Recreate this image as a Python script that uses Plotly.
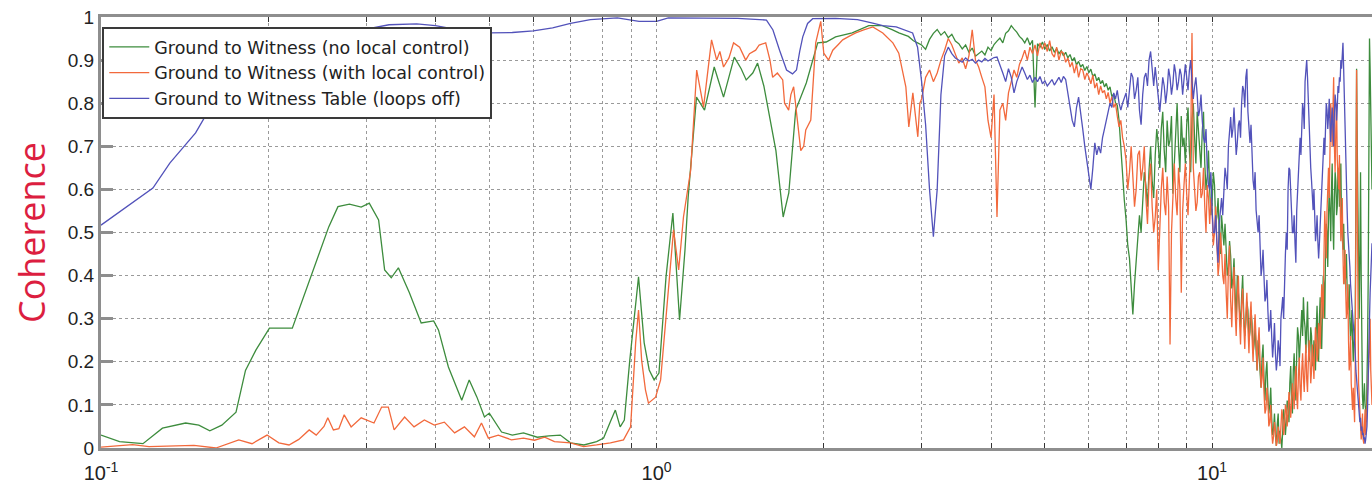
import numpy as np
import plotly.graph_objects as go

# ---- measured coherence, low-frequency part: (frequency Hz, coherence) ----
green_low = [
    (0.100, 0.030), (0.108, 0.015), (0.119, 0.010), (0.129, 0.046), (0.142, 0.058),
    (0.150, 0.053), (0.157, 0.040), (0.165, 0.053), (0.175, 0.083), (0.182, 0.180),
    (0.190, 0.227), (0.201, 0.278), (0.221, 0.278), (0.239, 0.400), (0.257, 0.513),
    (0.267, 0.560), (0.280, 0.566), (0.294, 0.559), (0.304, 0.568), (0.316, 0.529),
    (0.324, 0.413), (0.333, 0.395), (0.343, 0.418), (0.359, 0.360), (0.377, 0.290),
    (0.397, 0.295), (0.405, 0.274), (0.422, 0.188), (0.446, 0.111), (0.460, 0.158),
    (0.475, 0.118), (0.490, 0.072), (0.500, 0.081), (0.526, 0.037), (0.550, 0.030),
    (0.576, 0.035), (0.610, 0.025), (0.640, 0.028), (0.671, 0.030), (0.700, 0.012),
    (0.740, 0.007), (0.780, 0.015), (0.803, 0.023), (0.825, 0.060), (0.843, 0.088),
    (0.860, 0.049), (0.875, 0.065), (0.895, 0.204), (0.928, 0.397), (0.950, 0.244),
    (0.970, 0.181), (0.990, 0.158), (1.010, 0.174), (1.040, 0.397), (1.070, 0.545),
    (1.100, 0.297), (1.125, 0.459), (1.140, 0.582), (1.180, 0.814), (1.220, 0.784),
    (1.270, 0.884), (1.320, 0.814), (1.380, 0.907), (1.420, 0.880), (1.450, 0.854),
    (1.490, 0.870), (1.520, 0.893), (1.560, 0.840), (1.590, 0.784), (1.640, 0.690),
    (1.690, 0.536), (1.730, 0.592), (1.780, 0.784), (1.860, 0.847), (1.950, 0.940),
    (2.020, 0.942), (2.100, 0.954), (2.250, 0.963), (2.410, 0.980), (2.550, 0.980),
    (2.660, 0.970), (2.730, 0.963), (2.840, 0.955), (2.900, 0.945), (2.950, 0.940),
]

orange_low = [
    (0.100, 0.002), (0.106, 0.005), (0.114, 0.008), (0.122, 0.003), (0.133, 0.005),
    (0.147, 0.006), (0.161, 0.000), (0.177, 0.019), (0.187, 0.010), (0.199, 0.030),
    (0.209, 0.012), (0.218, 0.007), (0.227, 0.020), (0.237, 0.042), (0.244, 0.030),
    (0.252, 0.050), (0.256, 0.070), (0.262, 0.042), (0.268, 0.045), (0.274, 0.077),
    (0.282, 0.049), (0.294, 0.070), (0.310, 0.058), (0.320, 0.095), (0.329, 0.095),
    (0.337, 0.042), (0.352, 0.072), (0.366, 0.049), (0.382, 0.065), (0.398, 0.053),
    (0.415, 0.060), (0.433, 0.035), (0.451, 0.049), (0.470, 0.026), (0.484, 0.058),
    (0.498, 0.023), (0.519, 0.030), (0.548, 0.019), (0.576, 0.023), (0.603, 0.018),
    (0.629, 0.025), (0.655, 0.015), (0.700, 0.012), (0.739, 0.003), (0.780, 0.007),
    (0.826, 0.012), (0.872, 0.019), (0.898, 0.049), (0.917, 0.244), (0.928, 0.320),
    (0.940, 0.204), (0.955, 0.135), (0.967, 0.104), (0.996, 0.118), (1.017, 0.158),
    (1.042, 0.320), (1.073, 0.506), (1.096, 0.413), (1.118, 0.536), (1.152, 0.645),
    (1.181, 0.877), (1.215, 0.791), (1.256, 0.947), (1.283, 0.900), (1.300, 0.920),
    (1.320, 0.884), (1.350, 0.905), (1.376, 0.940), (1.411, 0.930), (1.447, 0.900),
    (1.470, 0.915), (1.508, 0.923), (1.530, 0.935), (1.572, 0.940), (1.600, 0.900),
    (1.618, 0.860), (1.650, 0.870), (1.687, 0.854), (1.700, 0.800), (1.729, 0.784),
    (1.745, 0.820), (1.765, 0.838), (1.790, 0.760), (1.818, 0.690), (1.840, 0.700),
    (1.856, 0.738), (1.895, 0.761), (1.934, 0.940), (1.975, 0.990), (2.000, 0.916),
    (2.040, 0.900), (2.076, 0.923), (2.120, 0.935), (2.163, 0.947), (2.220, 0.955),
    (2.283, 0.963), (2.360, 0.970), (2.451, 0.977), (2.554, 0.963), (2.663, 0.940),
    (2.729, 0.916), (2.810, 0.838), (2.845, 0.745), (2.893, 0.824), (2.953, 0.722),
    (2.978, 0.800),
]

blue_low = [
    (0.100, 0.517), (0.124, 0.603), (0.133, 0.661), (0.148, 0.731), (0.159, 0.800),
    (0.170, 0.860), (0.185, 0.910), (0.205, 0.940), (0.230, 0.955), (0.260, 0.965),
    (0.300, 0.972), (0.330, 0.982), (0.370, 0.984), (0.400, 0.980), (0.440, 0.970),
    (0.500, 0.963), (0.550, 0.964), (0.600, 0.968), (0.650, 0.975), (0.700, 0.985),
    (0.760, 0.994), (0.850, 0.998), (0.930, 0.990), (1.000, 0.990), (1.050, 0.998),
    (1.200, 0.998), (1.400, 0.997), (1.577, 0.993), (1.620, 0.970), (1.665, 0.923),
    (1.714, 0.877), (1.757, 0.868), (1.786, 0.877), (1.810, 0.920), (1.833, 0.954),
    (1.870, 0.985), (1.910, 0.996), (2.100, 0.997), (2.300, 0.994), (2.450, 0.986),
    (2.554, 0.980), (2.700, 0.977), (2.890, 0.963), (2.950, 0.930),
]

# ---- FFT-bin sections: 3.00-6.95 Hz every 0.05 Hz, then 7.00-19.40 Hz every 0.05 Hz ----
BAND_A = (3.0, 0.05)
BAND_B = (7.0, 0.05)

green_band_a = [
    0.935, 0.925, 0.948, 0.962, 0.971, 0.958, 0.966, 0.952, 0.960, 0.944,
    0.938, 0.926, 0.935, 0.918, 0.928, 0.909, 0.915, 0.921, 0.912, 0.930,
    0.922, 0.936, 0.944, 0.951, 0.940, 0.962, 0.968, 0.980, 0.972, 0.965,
    0.955, 0.949, 0.940, 0.952, 0.935, 0.946, 0.790, 0.938, 0.930, 0.942,
    0.925, 0.936, 0.921, 0.931, 0.918, 0.927, 0.915, 0.922, 0.910, 0.918,
    0.905, 0.913, 0.898, 0.906, 0.889, 0.897, 0.884, 0.890, 0.876, 0.885,
    0.871, 0.879, 0.862, 0.868, 0.852, 0.860, 0.845, 0.853, 0.838, 0.846,
    0.830, 0.838, 0.815, 0.822, 0.801, 0.795, 0.760, 0.690, 0.640, 0.575,
]
green_band_b = [
    0.530, 0.470, 0.440, 0.360, 0.310, 0.380, 0.430, 0.500, 0.540, 0.500,
    0.585, 0.640, 0.610, 0.560, 0.645, 0.700, 0.620, 0.580, 0.680, 0.740,
    0.705, 0.650, 0.740, 0.780, 0.690, 0.640, 0.760, 0.700, 0.715, 0.770,
    0.590, 0.660, 0.745, 0.800, 0.700, 0.640, 0.770, 0.700, 0.720, 0.660,
    0.750, 0.790, 0.690, 0.640, 0.765, 0.800, 0.720, 0.660, 0.780, 0.740,
    0.705, 0.650, 0.735, 0.780, 0.660, 0.600, 0.630, 0.690, 0.600, 0.540,
    0.570, 0.640, 0.610, 0.520, 0.536, 0.580, 0.500, 0.450, 0.540, 0.490,
    0.470, 0.520, 0.455, 0.400, 0.420, 0.480, 0.445, 0.370, 0.390, 0.440,
    0.360, 0.300, 0.400, 0.360, 0.336, 0.280, 0.350, 0.400, 0.310, 0.260,
    0.290, 0.340, 0.320, 0.250, 0.270, 0.320, 0.290, 0.220, 0.240, 0.280,
    0.227, 0.180, 0.250, 0.210, 0.190, 0.140, 0.210, 0.240, 0.160, 0.110,
    0.175, 0.200, 0.128, 0.080, 0.100, 0.140, 0.070, 0.030, 0.042, 0.080,
    0.030, 0.005, 0.055, 0.080, 0.010, 0.040, 0.019, 0.000, 0.040, 0.090,
    0.070, 0.030, 0.060, 0.110, 0.104, 0.060, 0.150, 0.190, 0.120, 0.080,
    0.180, 0.220, 0.160, 0.110, 0.220, 0.280, 0.260, 0.200, 0.240, 0.300,
    0.320, 0.260, 0.350, 0.300, 0.280, 0.220, 0.300, 0.340, 0.250, 0.200,
    0.227, 0.280, 0.260, 0.190, 0.200, 0.250, 0.240, 0.180, 0.280, 0.330,
    0.250, 0.200, 0.300, 0.350, 0.270, 0.230, 0.320, 0.400, 0.380, 0.300,
    0.450, 0.520, 0.500, 0.420, 0.540, 0.600, 0.550, 0.480, 0.600, 0.660,
    0.520, 0.460, 0.580, 0.640, 0.620, 0.540, 0.560, 0.650, 0.630, 0.560,
    0.600, 0.660, 0.520, 0.470, 0.460, 0.520, 0.430, 0.380, 0.400, 0.450,
    0.370, 0.320, 0.330, 0.380, 0.300, 0.250, 0.280, 0.320, 0.250, 0.200,
    0.244, 0.280, 0.300, 0.600, 0.880, 0.700, 0.570, 0.400, 0.300, 0.450,
    0.640, 0.400, 0.200, 0.120, 0.090, 0.130, 0.150, 0.100, 0.088, 0.060,
    0.120, 0.250, 0.400, 0.700, 0.950, 0.880, 0.780, 0.650, 0.600,
]

orange_band_a = [
    0.810, 0.860, 0.877, 0.850, 0.870, 0.900, 0.923, 0.950, 0.935, 0.915,
    0.893, 0.905, 0.880, 0.910, 0.970, 0.900, 0.884, 0.860, 0.838, 0.760,
    0.720, 0.820, 0.536, 0.784, 0.800, 0.760, 0.824, 0.850, 0.877, 0.860,
    0.890, 0.905, 0.923, 0.900, 0.930, 0.915, 0.935, 0.910, 0.940, 0.925,
    0.940, 0.920, 0.945, 0.915, 0.907, 0.930, 0.900, 0.920, 0.916, 0.895,
    0.905, 0.884, 0.895, 0.870, 0.890, 0.860, 0.880, 0.877, 0.855, 0.870,
    0.860, 0.845, 0.865, 0.835, 0.847, 0.820, 0.840, 0.824, 0.830, 0.810,
    0.825, 0.800, 0.815, 0.790, 0.800, 0.770, 0.745, 0.760, 0.720, 0.700,
]
orange_band_b = [
    0.668, 0.600, 0.640, 0.700, 0.630, 0.560, 0.600, 0.680, 0.690, 0.620,
    0.650, 0.700, 0.580, 0.520, 0.620, 0.660, 0.560, 0.500, 0.536, 0.600,
    0.413, 0.520, 0.600, 0.650, 0.570, 0.540, 0.630, 0.560, 0.240, 0.500,
    0.600, 0.660, 0.580, 0.540, 0.650, 0.600, 0.360, 0.550, 0.610, 0.660,
    0.590, 0.540, 0.620, 0.700, 0.963, 0.650, 0.600, 0.550, 0.570, 0.630,
    0.640, 0.580, 0.590, 0.650, 0.560, 0.500, 0.610, 0.580, 0.520, 0.580,
    0.550, 0.470, 0.500, 0.560, 0.475, 0.400, 0.430, 0.500, 0.460, 0.400,
    0.380, 0.450, 0.360, 0.300, 0.420, 0.470, 0.340, 0.280, 0.370, 0.420,
    0.320, 0.260, 0.350, 0.400, 0.300, 0.240, 0.330, 0.370, 0.290, 0.230,
    0.310, 0.360, 0.280, 0.220, 0.300, 0.340, 0.260, 0.200, 0.270, 0.310,
    0.250, 0.180, 0.244, 0.280, 0.200, 0.140, 0.160, 0.210, 0.128, 0.080,
    0.090, 0.140, 0.110, 0.050, 0.060, 0.100, 0.040, 0.010, 0.026, 0.060,
    0.040, 0.005, 0.015, 0.050, 0.030, 0.010, 0.049, 0.090, 0.070, 0.030,
    0.050, 0.100, 0.090, 0.050, 0.080, 0.130, 0.110, 0.070, 0.100, 0.150,
    0.128, 0.090, 0.150, 0.190, 0.120, 0.090, 0.170, 0.210, 0.140, 0.110,
    0.180, 0.220, 0.165, 0.130, 0.190, 0.240, 0.160, 0.130, 0.200, 0.250,
    0.210, 0.150, 0.180, 0.240, 0.204, 0.160, 0.230, 0.280, 0.250, 0.200,
    0.220, 0.290, 0.280, 0.230, 0.300, 0.380, 0.350, 0.300, 0.450, 0.550,
    0.500, 0.440, 0.550, 0.640, 0.650, 0.580, 0.720, 0.800, 0.760, 0.700,
    0.784, 0.860, 0.700, 0.640, 0.740, 0.800, 0.670, 0.600, 0.600, 0.680,
    0.540, 0.480, 0.510, 0.580, 0.450, 0.380, 0.400, 0.460, 0.360, 0.300,
    0.320, 0.380, 0.250, 0.180, 0.200, 0.260, 0.150, 0.100, 0.088, 0.140,
    0.100, 0.060, 0.200, 0.500, 0.877, 0.600, 0.300, 0.150, 0.120, 0.080,
    0.060, 0.020, 0.040, 0.080, 0.020, 0.010, 0.050, 0.090, 0.030, 0.060,
    0.080, 0.120, 0.150, 0.200, 0.240, 0.300, 0.180, 0.140, 0.100,
]

blue_band_a = [
    0.850, 0.750, 0.600, 0.490, 0.600, 0.820, 0.910, 0.930, 0.915, 0.905,
    0.900, 0.895, 0.905, 0.898, 0.902, 0.893, 0.900, 0.896, 0.904, 0.898,
    0.902, 0.906, 0.907, 0.890, 0.870, 0.850, 0.880, 0.860, 0.824, 0.850,
    0.870, 0.884, 0.870, 0.855, 0.865, 0.848, 0.860, 0.850, 0.862, 0.845,
    0.852, 0.840, 0.847, 0.855, 0.842, 0.850, 0.860, 0.848, 0.862, 0.855,
    0.824, 0.800, 0.760, 0.745, 0.790, 0.814, 0.780, 0.740, 0.700, 0.668,
    0.640, 0.600, 0.650, 0.708, 0.680, 0.700, 0.684, 0.720, 0.740, 0.760,
    0.784, 0.800, 0.790, 0.824, 0.810, 0.830, 0.800, 0.784, 0.800, 0.815,
]
blue_band_b = [
    0.824, 0.790, 0.840, 0.870, 0.860, 0.810, 0.830, 0.860, 0.784, 0.750,
    0.820, 0.860, 0.870, 0.840, 0.900, 0.920, 0.880, 0.840, 0.884, 0.850,
    0.814, 0.780, 0.820, 0.860, 0.840, 0.800, 0.830, 0.880, 0.860, 0.820,
    0.845, 0.890, 0.870, 0.830, 0.850, 0.880, 0.865, 0.820, 0.855, 0.890,
    0.860, 0.830, 0.875, 0.900, 0.850, 0.810, 0.840, 0.860, 0.820, 0.770,
    0.784, 0.820, 0.760, 0.720, 0.708, 0.740, 0.650, 0.610, 0.600, 0.640,
    0.552, 0.500, 0.500, 0.540, 0.475, 0.430, 0.520, 0.560, 0.580, 0.540,
    0.600, 0.650, 0.630, 0.600, 0.700, 0.740, 0.768, 0.720, 0.740, 0.790,
    0.720, 0.680, 0.708, 0.750, 0.760, 0.720, 0.800, 0.840, 0.830, 0.790,
    0.860, 0.880, 0.780, 0.740, 0.708, 0.750, 0.650, 0.620, 0.600, 0.640,
    0.552, 0.520, 0.500, 0.540, 0.450, 0.400, 0.420, 0.460, 0.397, 0.340,
    0.350, 0.390, 0.320, 0.270, 0.280, 0.320, 0.260, 0.210, 0.244, 0.290,
    0.220, 0.180, 0.204, 0.250, 0.230, 0.190, 0.300, 0.340, 0.350, 0.300,
    0.397, 0.450, 0.500, 0.460, 0.600, 0.650, 0.645, 0.600, 0.560, 0.500,
    0.500, 0.540, 0.475, 0.430, 0.550, 0.600, 0.650, 0.700, 0.720, 0.680,
    0.760, 0.800, 0.784, 0.740, 0.850, 0.880, 0.900, 0.860, 0.800, 0.750,
    0.700, 0.650, 0.620, 0.580, 0.552, 0.600, 0.520, 0.480, 0.500, 0.540,
    0.480, 0.440, 0.475, 0.520, 0.550, 0.600, 0.650, 0.700, 0.720, 0.680,
    0.760, 0.800, 0.784, 0.740, 0.770, 0.810, 0.750, 0.710, 0.760, 0.790,
    0.745, 0.700, 0.780, 0.820, 0.800, 0.760, 0.790, 0.840, 0.824, 0.860,
    0.850, 0.900, 0.880, 0.920, 0.940, 0.880, 0.800, 0.740, 0.700, 0.640,
    0.552, 0.500, 0.480, 0.440, 0.420, 0.380, 0.360, 0.330, 0.320, 0.280,
    0.280, 0.240, 0.220, 0.180, 0.160, 0.140, 0.120, 0.100, 0.088, 0.060,
    0.070, 0.040, 0.050, 0.030, 0.035, 0.020, 0.025, 0.010, 0.020, 0.030,
    0.050, 0.100, 0.150, 0.220, 0.300, 0.360, 0.400, 0.440, 0.475,
]

series_names = [
    "Ground to Witness (no local control)",
    "Ground to Witness (with local control)",
    "Ground to Witness Table (loops off)",
]
series_colors = ["#3d8c3d", "#f2693c", "#5252ba"]

decade_ticks = [0.1, 1, 10]
decade_labels = ["10<sup>-1</sup>", "10<sup>0</sup>", "10<sup>1</sup>"]
coh_ticks = [0, 0.1, 0.2, 0.3, 0.4, 0.5, 0.6, 0.7, 0.8, 0.9, 1]
coh_labels = ["0", "0.1", "0.2", "0.3", "0.4", "0.5", "0.6", "0.7", "0.8", "0.9", "1"]
F_MAX = 19.4


def assemble(low, band_a, band_b):
    f_low = [p[0] for p in low]
    c_low = [p[1] for p in low]
    f_a = BAND_A[0] + BAND_A[1] * np.arange(len(band_a))
    f_b = BAND_B[0] + BAND_B[1] * np.arange(len(band_b))
    f = np.concatenate([f_low, f_a, f_b])
    c = np.concatenate([c_low, band_a, band_b])
    return f, c


curves = [
    assemble(green_low, green_band_a, green_band_b),
    assemble(orange_low, orange_band_a, orange_band_b),
    assemble(blue_low, blue_band_a, blue_band_b),
]

fig = go.Figure()
for (f, c), name, color in zip(curves, series_names, series_colors):
    fig.add_trace(go.Scatter(
        x=f, y=c, mode="lines", name=name,
        line=dict(color=color, width=1.3),
    ))

# every decade plus its 2..9 subdivisions carries a tick and a dotted grid line
grid_vals = []
grid_text = []
for d, lab in zip(decade_ticks, decade_labels):
    for m in range(1, 10):
        v = d * m
        if v <= F_MAX:
            grid_vals.append(v)
            grid_text.append(lab if m == 1 else "")

axis_gray = "#8e8e8e"
grid_gray = "#9a9a9a"

fig.update_layout(
    width=1372, height=488,
    margin=dict(l=101, r=0, t=17, b=40),
    paper_bgcolor="white", plot_bgcolor="white",
    font=dict(family="Liberation Sans, Arial, sans-serif", color="#222222"),
    showlegend=True,
    legend=dict(
        x=0.001, y=0.977, xanchor="left", yanchor="top",
        bgcolor="white", bordercolor="#3a3a3a", borderwidth=2,
        font=dict(family="DejaVu Sans, sans-serif", size=17.5, color="#222222"),
        tracegroupgap=0, itemwidth=40,
    ),
    xaxis=dict(
        type="log", range=[-1, np.log10(F_MAX)],
        tickmode="array", tickvals=grid_vals, ticktext=grid_text,
        tickfont=dict(size=20, color="#222222"),
        ticks="inside", ticklen=5, tickwidth=1, tickcolor="#333333",
        showline=True, linecolor=axis_gray, linewidth=3, mirror="ticks",
        showgrid=True, gridcolor=grid_gray, griddash="dot", gridwidth=1,
        zeroline=False, ticklabelstandoff=5,
    ),
    yaxis=dict(
        range=[0, 1], tickmode="array", tickvals=coh_ticks, ticktext=coh_labels,
        tickfont=dict(size=19, color="#222222"),
        ticks="inside", ticklen=12, tickwidth=3, tickcolor=axis_gray,
        showline=True, linecolor=axis_gray, linewidth=3, mirror=False,
        showgrid=True, gridcolor=grid_gray, griddash="dot", gridwidth=1,
        zeroline=False,
        title=dict(text="Coherence",
                   font=dict(family="Open Sans, sans-serif", size=36, color="#dc1e40"),
                   standoff=12),
    ),
)

fig.write_html("out.html")
